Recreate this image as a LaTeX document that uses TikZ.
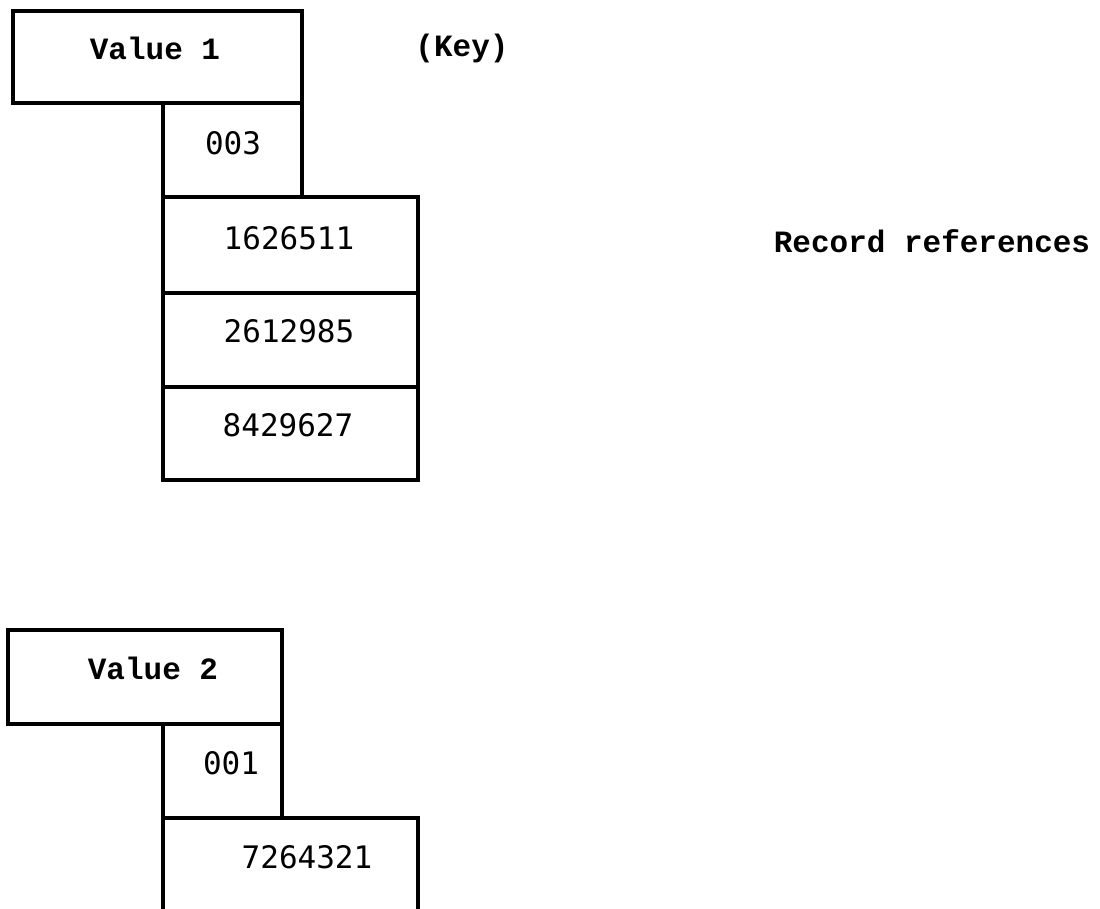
\documentclass[tikz,border=0pt]{standalone}
\usepackage{fontspec}
\setmainfont{Liberation Mono}
\newfontfamily\digitfont{DejaVu Sans Mono}
\begin{document}
\begin{tikzpicture}[x=1pt,y=-1pt,
  box/.style={draw=black,line width=3.2pt,minimum width=#1,inner sep=0pt,outer sep=0pt},
  lbl/.style={font=\fontsize{31}{31}\selectfont\bfseries},
  num/.style={font=\fontsize{31}{31}\digitfont},
  txt/.style={font=\fontsize{31}{31}\selectfont\bfseries}]
\useasboundingbox (0,0) rectangle (1100,909);
% group 1
\node[box=289pt,minimum height=92pt] (v1) at (157.5,57) {};
\node[box=139pt,minimum height=94pt] (k1) at (232.5,150) {};
\node[box=255pt,minimum height=96pt] (r1) at (290.5,245) {};
\node[box=255pt,minimum height=94pt] (r2) at (290.5,340) {};
\node[box=255pt,minimum height=93pt] (r3) at (290.5,433.5) {};
\node[lbl] (tv1) at (155,48) {Value 1};
\node[num] (tk1) at (233,143) {003};
\node[num] (t11) at (289,238) {1626511};
\node[num] (t12) at (289,331) {2612985};
\node[num] (t13) at (288,425) {8429627};
\node[txt] (key) at (462,48) {(Key)};
\node[txt] (rec) at (932,241) {Record references};
% group 2
\node[box=274pt,minimum height=94pt] (v2) at (145,677) {};
\node[box=119pt,minimum height=94pt] (k2) at (222.5,771) {};
\coordinate (bl) at (163,909);
\coordinate (br) at (418,909);
\coordinate (tl) at (163,818);
\coordinate (tr) at (418,818);
\draw[line width=3.2pt] (bl) -- (tl) -- (tr) -- (br);
\node[lbl] (tv2) at (153,668) {Value 2};
\node[num] (tk2) at (231,763) {001};
\node[num] (t21) at (307,857) {7264321};
\end{tikzpicture}
\end{document}
